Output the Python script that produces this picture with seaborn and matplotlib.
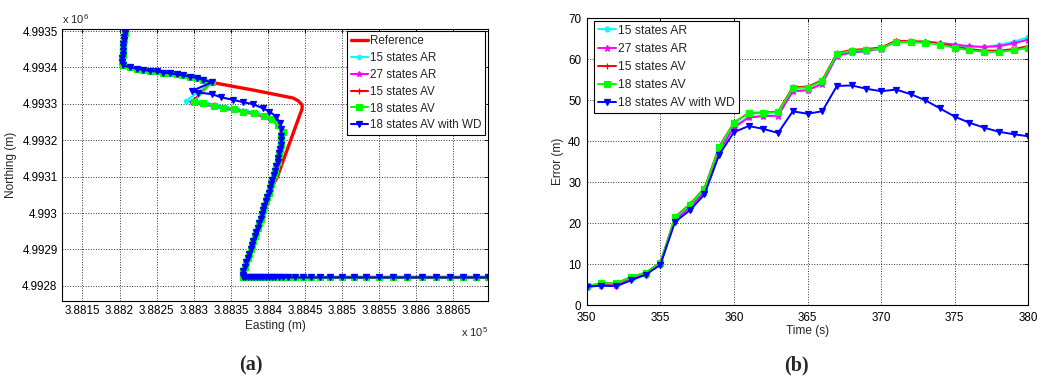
import matplotlib
matplotlib.use("Agg")
import matplotlib.pyplot as plt
import seaborn as sns
from matplotlib.ticker import FuncFormatter, MultipleLocator

# ---- panel (a): trajectory, easting / northing in metres ----
ref_east = [388207, 388204, 388203, 388205, 388214, 388241, 388268, 388295, 388313, 388324,
            388380, 388434, 388441, 388446, 388446, 388443, 388412, 388405, 388398, 388385,
            388372, 388367, 388369, 388697]
ref_north = [4993505, 4993440, 4993412, 4993404, 4993401, 4993391, 4993384, 4993375, 4993366, 4993359,
             4993338, 4993316, 4993308, 4993297, 4993286, 4993270, 4993096, 4993073, 4993036, 4992945,
             4992862, 4992835, 4992823, 4992823]

# common start of all estimates (vertical leg + diagonal)
top_east = [388207, 388207, 388206, 388206, 388205, 388205, 388204, 388204, 388203, 388203, 388204,
            388214, 388223, 388232, 388241, 388250, 388259, 388268, 388277, 388286, 388295,
            388304, 388313, 388324]
top_north = [4993505, 4993495, 4993485, 4993475, 4993465, 4993455, 4993445, 4993435, 4993425, 4993415, 4993406,
             4993401, 4993397, 4993393, 4993391, 4993389, 4993386, 4993384, 4993381, 4993378, 4993375,
             4993371, 4993366, 4993359]

# where the estimates split up after the turn
loop_ar15_east = [388290, 388304, 388318, 388331, 388345, 388358, 388371, 388385, 388397, 388407, 388415, 388419]
loop_ar15_north = [4993309, 4993305, 4993300, 4993295, 4993290, 4993285, 4993280, 4993274, 4993267, 4993257, 4993242, 4993224]
loop_ar27_east = [388297, 388312, 388326, 388340, 388353, 388367, 388380, 388393, 388405, 388414, 388419]
loop_ar27_north = [4993305, 4993300, 4993293, 4993288, 4993283, 4993277, 4993272, 4993265, 4993256, 4993240, 4993222]
loop_av15_east = [388299, 388313, 388327, 388340, 388354, 388367, 388381, 388394, 388405, 388414, 388419]
loop_av15_north = [4993307, 4993302, 4993296, 4993290, 4993285, 4993280, 4993274, 4993267, 4993258, 4993242, 4993224]
loop_av18_east = [388300, 388313, 388327, 388340, 388354, 388367, 388381, 388394, 388405, 388414, 388420]
loop_av18_north = [4993306, 4993302, 4993295, 4993290, 4993285, 4993279, 4993274, 4993267, 4993258, 4993242, 4993224]
loop_wd_east = [388298, 388306, 388324, 388337, 388353, 388366, 388380, 388393, 388402, 388411, 388416, 388418]
loop_wd_north = [4993336, 4993331, 4993327, 4993318, 4993311, 4993305, 4993299, 4993288, 4993279, 4993265, 4993247, 4993230]

# common southward leg and eastward leg
tail_east = [388418, 388418, 388417, 388416, 388415, 388414, 388413, 388411, 388410, 388408,
             388406, 388404, 388403, 388401, 388399, 388397, 388395, 388393, 388392, 388390,
             388388, 388386, 388384, 388382, 388380, 388378, 388377, 388375, 388373, 388371,
             388369, 388367, 388366, 388367,
             388369, 388373, 388377, 388381, 388385, 388389, 388393, 388397, 388401, 388405,
             388410, 388415, 388420, 388427, 388437, 388447, 388458, 388470, 388484, 388500,
             388516, 388532, 388550, 388568, 388588, 388607, 388626, 388645, 388663, 388681, 388697]
tail_north = [4993212, 4993200, 4993188, 4993176, 4993164, 4993152, 4993140, 4993128, 4993116, 4993104,
              4993092, 4993080, 4993068, 4993056, 4993044, 4993032, 4993020, 4993008, 4992996, 4992984,
              4992972, 4992960, 4992948, 4992936, 4992924, 4992912, 4992900, 4992888, 4992876, 4992864,
              4992852, 4992840, 4992830, 4992824,
              4992823, 4992823, 4992823, 4992823, 4992823, 4992823, 4992823, 4992823, 4992823, 4992823,
              4992823, 4992823, 4992823, 4992823, 4992823, 4992823, 4992823, 4992823, 4992823, 4992823,
              4992823, 4992823, 4992823, 4992823, 4992823, 4992823, 4992823, 4992823, 4992823, 4992823, 4992823]

# ---- panel (b): position error over time ----
time_s = list(range(350, 381))
err_ar15 = [4.4, 5.1, 5.1, 6.6, 7.7, 10.0, 20.9, 24.0, 27.9, 38.0, 43.6, 45.9, 46.2, 46.3, 52.3, 52.5,
            54.1, 60.8, 61.6, 61.9, 62.6, 64.3, 64.2, 64.2, 63.8, 63.4, 63.1, 63.0, 63.5, 64.3, 65.4]
err_ar27 = [4.3, 5.0, 5.0, 6.5, 7.6, 9.9, 20.7, 23.8, 27.6, 37.6, 43.3, 45.8, 46.1, 46.2, 52.2, 52.4,
            54.0, 60.9, 61.7, 62.0, 62.6, 64.4, 64.3, 64.3, 64.0, 63.6, 63.2, 63.0, 63.2, 63.9, 64.8]
err_av15 = [4.6, 5.3, 5.3, 6.8, 7.9, 10.3, 21.5, 24.6, 28.5, 38.7, 44.5, 46.9, 47.0, 47.2, 53.2, 53.3,
            54.9, 61.5, 62.3, 62.5, 62.9, 64.5, 64.4, 64.3, 63.8, 63.1, 62.5, 62.1, 62.1, 62.5, 63.2]
err_av18 = [4.6, 5.3, 5.3, 6.8, 7.9, 10.2, 21.4, 24.5, 28.4, 38.5, 44.5, 46.8, 46.9, 47.1, 53.0, 53.1,
            54.7, 61.3, 62.1, 62.2, 62.7, 64.2, 64.2, 64.0, 63.6, 62.8, 62.2, 61.8, 61.8, 62.2, 62.8]
err_wd = [4.5, 4.7, 4.6, 6.0, 7.4, 9.8, 20.3, 23.1, 27.0, 36.7, 42.2, 43.7, 43.0, 42.0, 47.3, 46.7,
          47.3, 53.5, 53.6, 52.8, 52.2, 52.6, 51.5, 50.0, 48.0, 46.0, 44.5, 43.3, 42.3, 41.7, 41.2]

LABELS = ["15 states AR", "27 states AR", "15 states AV", "18 states AV", "18 states AV with WD"]
COLORS = ["#00FFFF", "#FF00FF", "#FF0000", "#00FF00", "#0000FF"]
MARKERS = ["o", "*", "+", "s", "v"]
MSIZES = [3, 4, 4, 3.8, 4.3]

sns.set_style("white")
plt.rcParams["font.family"] = ["Liberation Sans", "DejaVu Sans"]
plt.rcParams["mathtext.fontset"] = "custom"
plt.rcParams["mathtext.rm"] = "Liberation Sans"


def style_ax(ax):
    ax.grid(True, linestyle=":", color="black", linewidth=0.7, alpha=0.8)
    for spine in ax.spines.values():
        spine.set_visible(True)
        spine.set_color("black")
        spine.set_linewidth(0.8)
    ax.tick_params(direction="in", top=True, right=True, length=3, width=0.6,
                   labelsize=8.4, pad=3, colors="black")


fig = plt.figure(figsize=(10.37, 3.76), dpi=100)
ax_a = fig.add_axes([0.0595, 0.2003, 0.4114, 0.7218])
ax_b = fig.add_axes([0.5658, 0.1888, 0.4258, 0.7625])

# ----- (a) -----
sns.lineplot(x=ref_east, y=ref_north, ax=ax_a, sort=False, estimator=None,
             color="#FF0000", linewidth=2.4, label="Reference")
tracks = [
    (loop_ar15_east, loop_ar15_north),
    (loop_ar27_east, loop_ar27_north),
    (loop_av15_east, loop_av15_north),
    (loop_av18_east, loop_av18_north),
    (loop_wd_east, loop_wd_north),
]
for (le, ln), lab, col, mk, ms in zip(tracks, LABELS, COLORS, MARKERS, MSIZES):
    sns.lineplot(x=top_east + le + tail_east, y=top_north + ln + tail_north, ax=ax_a,
                 sort=False, estimator=None, color=col, linewidth=1.5, marker=mk,
                 markersize=ms, markeredgecolor=col, markeredgewidth=0.9, label=lab)

ax_a.set_xlim(388122, 388697)
ax_a.set_ylim(4992759, 4993505)
ax_a.xaxis.set_major_locator(MultipleLocator(50))
ax_a.yaxis.set_major_locator(MultipleLocator(100))
ax_a.xaxis.set_major_formatter(FuncFormatter(lambda v, p: "%g" % round(v / 1e5, 6)))
ax_a.yaxis.set_major_formatter(FuncFormatter(lambda v, p: "%g" % round(v / 1e6, 6)))
style_ax(ax_a)
ax_a.set_xlabel("Easting (m)", fontsize=8.6, labelpad=2)
ax_a.set_ylabel("Northing (m)", fontsize=8.6, labelpad=4)
ax_a.text(0.0, 1.012, r"x 10$^6$", transform=ax_a.transAxes, fontsize=8, ha="left", va="bottom")
ax_a.text(1.0, -0.09, r"x 10$^5$", transform=ax_a.transAxes, fontsize=8, ha="right", va="top")
leg = ax_a.legend(loc="upper right", bbox_to_anchor=(0.993, 0.992), borderaxespad=0,
                  fontsize=8.4, fancybox=False, framealpha=1, edgecolor="black",
                  handlelength=1.5, handletextpad=0.2, labelspacing=0.42, borderpad=0.3)
leg.get_frame().set_linewidth(0.8)

# ----- (b) -----
series_b = [err_ar15, err_ar27, err_av15, err_av18, err_wd]
for vals, lab, col, mk, ms in zip(series_b, LABELS, COLORS, MARKERS, MSIZES):
    sns.lineplot(x=time_s, y=vals, ax=ax_b, color=col, linewidth=1.4, marker=mk,
                 markersize=ms + 0.5, markeredgecolor=col, markeredgewidth=0.9, label=lab)

ax_b.set_xlim(350, 380)
ax_b.set_ylim(0, 70)
ax_b.xaxis.set_major_locator(MultipleLocator(5))
ax_b.yaxis.set_major_locator(MultipleLocator(10))
style_ax(ax_b)
ax_b.tick_params(axis="x", pad=5)
ax_b.tick_params(axis="y", pad=4)
ax_b.set_xlabel("Time (s)", fontsize=8.6, labelpad=1)
ax_b.set_ylabel("Error (m)", fontsize=8.6, labelpad=3)
leg = ax_b.legend(loc="upper left", bbox_to_anchor=(0.0165, 0.9906), borderaxespad=0,
                  fontsize=8.8, fancybox=False, framealpha=1, edgecolor="black",
                  handlelength=1.5, handletextpad=0.2, labelspacing=0.5, borderpad=0.3)
leg.get_frame().set_linewidth(0.8)

fig.text(0.2418, 0.027, "(a)", fontsize=14.5, fontweight="bold", ha="center", va="center",
         family=["Liberation Serif", "DejaVu Serif"])
fig.text(0.7683, 0.027, "(b)", fontsize=14.5, fontweight="bold", ha="center", va="center",
         family=["Liberation Serif", "DejaVu Serif"])

fig.savefig("out.png", dpi=100)
